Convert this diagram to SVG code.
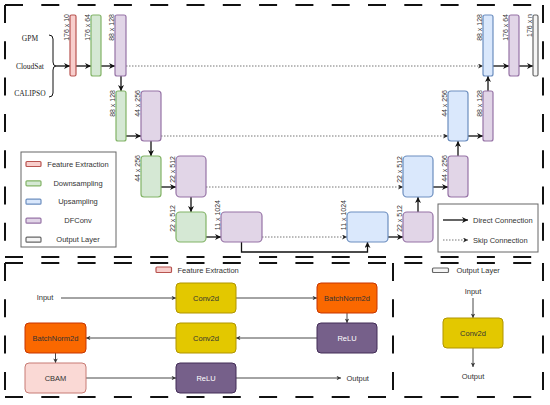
<svg xmlns="http://www.w3.org/2000/svg" width="550" height="405" viewBox="0 0 550 405">
<style>
text{font-family:"Liberation Sans",Arial,sans-serif;fill:#333}
.lab{font-size:7px}
.t{font-size:7.5px}
.serif{font-family:"Liberation Serif","Times New Roman",serif;font-size:7.5px;fill:#222}
.fe{fill:#f8cecc;stroke:#b85450;stroke-width:1.2}
.dn{fill:#d5e8d4;stroke:#82b366;stroke-width:1.2}
.up{fill:#dae8fc;stroke:#6c8ebf;stroke-width:1.2}
.df{fill:#e1d5e7;stroke:#9673a6;stroke-width:1.2}
.ol{fill:#f5f5f5;stroke:#666;stroke-width:1.2}
.yl{fill:#e3c800;stroke:#b09500;stroke-width:1}
.or{fill:#fa6800;stroke:#c73500;stroke-width:1}
.pu{fill:#76608a;stroke:#432d57;stroke-width:1}
.pk{fill:#fad9d5;stroke:#c77b74;stroke-width:1}
.frame{fill:none;stroke:#111;stroke-width:2;stroke-dasharray:18 18.3}
.dc{fill:none;stroke:#111;stroke-width:1.3;marker-end:url(#ah)}
.sk{fill:none;stroke:#777;stroke-width:1;stroke-dasharray:1.5 1.5;marker-end:url(#as)}
.bc{fill:none;stroke:#333;stroke-width:0.9;marker-end:url(#ab)}
.lg{fill:#fff;stroke:#666;stroke-width:1}
.w{fill:#fff}
</style>
<defs>
<marker id="ah" viewBox="0 0 10 10" refX="10" refY="5" markerUnits="userSpaceOnUse" markerWidth="7" markerHeight="6" orient="auto"><path d="M0,0 L10,5 L0,10 L3,5 Z" fill="#111"/></marker>
<marker id="as" viewBox="0 0 10 10" refX="10" refY="5" markerUnits="userSpaceOnUse" markerWidth="5" markerHeight="5" orient="auto"><path d="M0,0 L10,5 L0,10 L3,5 Z" fill="#222"/></marker>
<marker id="ab" viewBox="0 0 10 10" refX="10" refY="5" markerUnits="userSpaceOnUse" markerWidth="5" markerHeight="4.5" orient="auto"><path d="M0,0 L10,5 L0,10 L3,5 Z" fill="#333"/></marker>
</defs>
<rect width="550" height="405" fill="#fff"/>

<g id="frames">
<path class="frame" d="M5,5 H543 M5,5 V257 M543,5 V257 M5,257 H543"/>
<path class="frame" d="M5,263 H543 M5,263 V397 M543,263 V397 M5,397 H543 M393,263 V397"/>
</g>

<g id="inputs">
<text class="serif" x="30" y="40.5" text-anchor="middle">GPM</text>
<text class="serif" x="30" y="68.5" text-anchor="middle">CloudSat</text>
<text class="serif" x="30" y="95.5" text-anchor="middle">CALIPSO</text>
<path d="M49,35 Q53,35 53,39 L53,62 Q53,66 56,66 Q53,66 53,70 L53,93 Q53,97 49,97" fill="none" stroke="#111" stroke-width="1"/>
</g>

<g id="connectors">
<path class="dc" d="M56,66 H70"/>
<path class="dc" d="M76,66 H91"/>
<path class="dc" d="M101,66 H115"/>
<path class="dc" d="M121,76 V91"/>
<path class="dc" d="M126,136 H141"/>
<path class="dc" d="M151,141 V156"/>
<path class="dc" d="M161,187 H176"/>
<path class="dc" d="M191,197 V212"/>
<path class="dc" d="M206,237 H221"/>
<path class="dc" d="M241.5,242 V252 H367.5 V242"/>
<path class="dc" d="M388,237 H403"/>
<path class="dc" d="M418,212 V197"/>
<path class="dc" d="M433,187 H448"/>
<path class="dc" d="M458,156 V141"/>
<path class="dc" d="M468,136 H483"/>
<path class="dc" d="M488,91 V76"/>
<path class="dc" d="M493,66 H509"/>
<path class="dc" d="M519,66 H533"/>
<path class="sk" d="M126,66 H483"/>
<path class="sk" d="M161,136 H448"/>
<path class="sk" d="M206,187 H403"/>
<path class="sk" d="M262,237 H347"/>
</g>

<g id="n-l1-fe"><rect class="fe" x="70" y="15" width="6" height="61" rx="1.5"/><text class="lab" transform="translate(69,14) rotate(-90)" text-anchor="end">176 x 10</text></g>
<g id="n-l1-dn"><rect class="dn" x="91" y="15" width="10" height="61" rx="2"/><text class="lab" transform="translate(90,14) rotate(-90)" text-anchor="end">176 x 64</text></g>
<g id="n-l1-df"><rect class="df" x="115" y="15" width="11" height="61" rx="2"/><text class="lab" transform="translate(114,14) rotate(-90)" text-anchor="end">88 x 128</text></g>
<g id="n-l1-up"><rect class="up" x="483" y="15" width="10" height="61" rx="2"/><text class="lab" transform="translate(482,14) rotate(-90)" text-anchor="end">88 x 128</text></g>
<g id="n-l1-df2"><rect class="df" x="509" y="15" width="10" height="61" rx="2"/><text class="lab" transform="translate(507.5,14) rotate(-90)" text-anchor="end">176 x 64</text></g>
<g id="n-l1-out"><rect class="ol" x="533" y="15" width="5" height="61" rx="1.5"/><text class="lab" transform="translate(532,14) rotate(-90)" text-anchor="end">176 x n</text></g>

<g id="n-l2-dn"><rect class="dn" x="116" y="91" width="10" height="50" rx="2"/><text class="lab" transform="translate(115,90) rotate(-90)" text-anchor="end">88 x 128</text></g>
<g id="n-l2-df"><rect class="df" x="141" y="91" width="20" height="50" rx="3"/><text class="lab" transform="translate(140,90) rotate(-90)" text-anchor="end">44 x 256</text></g>
<g id="n-l2-up"><rect class="up" x="448" y="91" width="20" height="50" rx="3"/><text class="lab" transform="translate(447,90) rotate(-90)" text-anchor="end">44 x 256</text></g>
<g id="n-l2-df2"><rect class="df" x="483" y="91" width="10" height="50" rx="2"/><text class="lab" transform="translate(482,90) rotate(-90)" text-anchor="end">88 x 128</text></g>

<g id="n-l3-dn"><rect class="dn" x="141" y="156" width="20" height="41" rx="3"/><text class="lab" transform="translate(140,155) rotate(-90)" text-anchor="end">44 x 256</text></g>
<g id="n-l3-df"><rect class="df" x="176" y="156" width="30" height="41" rx="4"/><text class="lab" transform="translate(175,156) rotate(-90)" text-anchor="end">22 x 512</text></g>
<g id="n-l3-up"><rect class="up" x="403" y="156" width="30" height="41" rx="4"/><text class="lab" transform="translate(402,156) rotate(-90)" text-anchor="end">22 x 512</text></g>
<g id="n-l3-df2"><rect class="df" x="448" y="156" width="20" height="41" rx="3"/><text class="lab" transform="translate(447,155) rotate(-90)" text-anchor="end">44 x 256</text></g>

<g id="n-l4-dn"><rect class="dn" x="176" y="212" width="30" height="30" rx="4"/><text class="lab" transform="translate(175,205) rotate(-90)" text-anchor="end">22 x 512</text></g>
<g id="n-l4-df"><rect class="df" x="221" y="212" width="41" height="30" rx="4"/><text class="lab" transform="translate(220,200) rotate(-90)" text-anchor="end">11 x 1024</text></g>
<g id="n-l4-up"><rect class="up" x="347" y="212" width="41" height="30" rx="4"/><text class="lab" transform="translate(346,200) rotate(-90)" text-anchor="end">11 x 1024</text></g>
<g id="n-l4-df2"><rect class="df" x="403" y="212" width="30" height="30" rx="4"/><text class="lab" transform="translate(402,205) rotate(-90)" text-anchor="end">22 x 512</text></g>

<g id="legend-blocks">
<rect class="lg" x="21" y="152" width="95" height="95"/>
<rect class="fe" x="26" y="161.5" width="15" height="5" rx="1" stroke-width="0.8"/><text class="t" x="78" y="166.7" text-anchor="middle">Feature Extraction</text>
<rect class="dn" x="26" y="180.8" width="15" height="5" rx="1" stroke-width="0.8"/><text class="t" x="78" y="186" text-anchor="middle">Downsampling</text>
<rect class="up" x="26" y="199.2" width="15" height="5" rx="1" stroke-width="0.8"/><text class="t" x="78" y="204.4" text-anchor="middle">Upsampling</text>
<rect class="df" x="26" y="218.2" width="15" height="5" rx="1" stroke-width="0.8"/><text class="t" x="78" y="223.4" text-anchor="middle">DFConv</text>
<rect class="ol" x="26" y="237.2" width="15" height="5" rx="1" stroke-width="0.8"/><text class="t" x="78" y="242.4" text-anchor="middle">Output Layer</text>
</g>

<g id="legend-lines">
<rect class="lg" x="438" y="204" width="100" height="48"/>
<path class="dc" d="M443,220 H468"/>
<text class="t" x="473" y="222.7">Direct Connection</text>
<path class="sk" d="M443,240 H468"/>
<text class="t" x="473" y="242.7">Skip Connection</text>
</g>

<g id="fe-detail">
<rect class="fe" x="156" y="267" width="15.5" height="5.5" rx="1" stroke-width="0.8"/>
<text class="t" x="177.5" y="272.7">Feature Extraction</text>
<text class="t" x="45" y="300.4" text-anchor="middle">Input</text>
<path class="bc" d="M61,298 H176"/>
<path class="bc" d="M236,298 H317"/>
<path class="bc" d="M347,313 V323"/>
<path class="bc" d="M317,338 H236"/>
<path class="bc" d="M176,338 H86"/>
<path class="bc" d="M55.5,353 V363"/>
<path class="bc" d="M86,378 H176"/>
<path class="bc" d="M236,378 H341"/>
<text class="t" x="357.7" y="380.7" text-anchor="middle">Output</text>
</g>
<g id="b-conv1"><rect class="yl" x="176" y="283" width="60" height="30" rx="4"/><text class="t" x="206" y="300.7" text-anchor="middle">Conv2d</text></g>
<g id="b-bn1"><rect class="or" x="317" y="283" width="60" height="30" rx="4"/><text class="t" x="347" y="300.7" text-anchor="middle">BatchNorm2d</text></g>
<g id="b-relu1"><rect class="pu" x="317" y="323" width="60" height="30" rx="4"/><text class="t w" x="347" y="340.7" text-anchor="middle">ReLU</text></g>
<g id="b-conv2"><rect class="yl" x="176" y="323" width="60" height="30" rx="4"/><text class="t" x="206" y="340.7" text-anchor="middle">Conv2d</text></g>
<g id="b-bn2"><rect class="or" x="25" y="323" width="61" height="30" rx="4"/><text class="t" x="55.5" y="340.7" text-anchor="middle">BatchNorm2d</text></g>
<g id="b-cbam"><rect class="pk" x="25" y="363" width="61" height="30" rx="4"/><text class="t" x="55.5" y="380.7" text-anchor="middle">CBAM</text></g>
<g id="b-relu2"><rect class="pu" x="176" y="363" width="60" height="30" rx="4"/><text class="t w" x="206" y="380.7" text-anchor="middle">ReLU</text></g>

<g id="out-detail">
<rect class="ol" x="432.5" y="268" width="16" height="4.5" rx="1" stroke-width="0.8"/>
<text class="t" x="456.5" y="272.7">Output Layer</text>
<text class="t" x="473" y="293.7" text-anchor="middle">Input</text>
<path class="bc" d="M473,298 V318"/>
<path class="bc" d="M473,348 V367"/>
<text class="t" x="473" y="378.7" text-anchor="middle">Output</text>
</g>
<g id="o-conv"><rect class="yl" x="443" y="318" width="60" height="30" rx="4"/><text class="t" x="473" y="335.7" text-anchor="middle">Conv2d</text></g>
</svg>
